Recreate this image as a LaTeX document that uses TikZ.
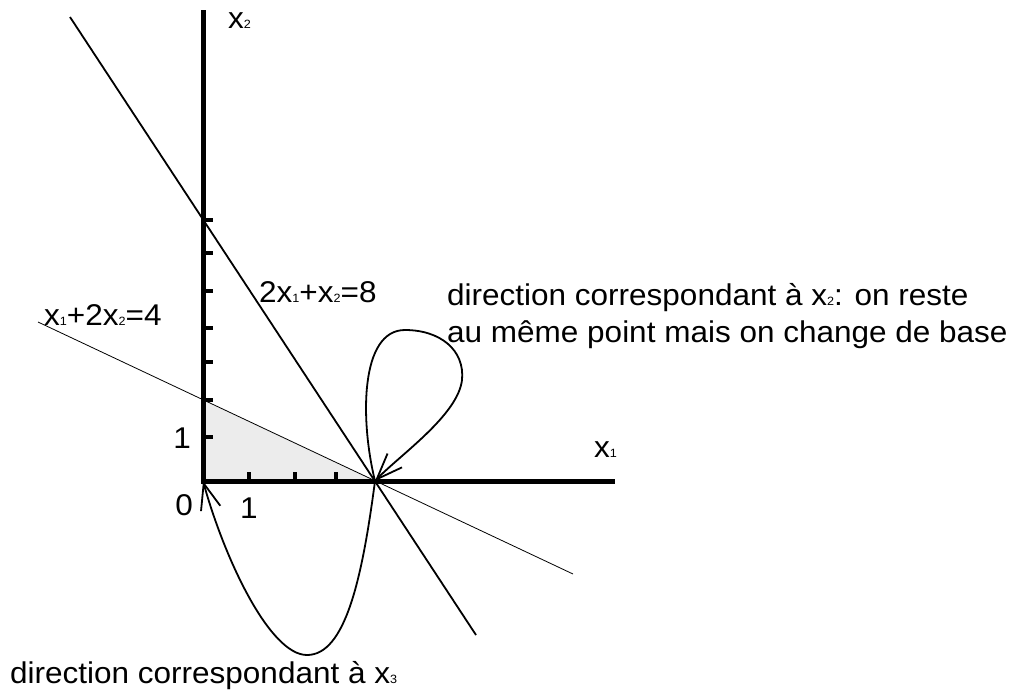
\documentclass[tikz,border=0pt]{standalone}
\usepackage{fontspec}
\setmainfont[FakeStretch=1.05]{Liberation Sans}
\usetikzlibrary{arrows.meta}

\newcommand{\sx}[1]{x{\fontsize{12}{12}\selectfont #1}}
\newcommand{\LPtickY}[1]{\draw[line width=4pt] (203,#1) -- (213,#1);}
\newcommand{\LPtickX}[1]{\draw[line width=4pt] (#1,481) -- (#1,472);}
\tikzset{lbl/.style={inner sep=0pt,font=\fontsize{30}{37}\selectfont},
  dirloop/.style={line width=1.8pt,-{Straight Barb[length=26pt,width=20pt]}}}

\begin{document}
\begin{tikzpicture}[x=1pt,y=-1pt]
  \useasboundingbox (0,0) rectangle (1022,691);
  \coordinate (O) at (203,481);
  \coordinate (P) at (375,481);
  \coordinate (Q) at (203,400);
  \fill[fill=gray!15] (O) -- (Q) -- (P) -- cycle;
  \draw[line width=1.8pt] (70,17) -- (476,635);
  \draw[line width=0.8pt] (38,322) -- (573,574);
  \draw[line width=5pt] (203,10) -- (O) -- (615,481);
  \foreach\y in{220,253,291,328,362,400,437}{\LPtickY{\y}}
  \foreach\x in{249,295,336}{\LPtickX{\x}}
  \draw[dirloop] (P) .. controls (360,420) and (360,330) .. (405,330)
    .. controls (440,330) and (465,350) .. (462,380)
    .. controls (458,415) and (400,455) .. (P);
  \draw[dirloop] (P) .. controls (362,580) and (345,655) .. (307,655)
    .. controls (270,655) and (225,560) .. (O);
  \node[lbl,anchor=base west] (xtwo) at (228,28) {\sx{2}};
  \node[lbl,anchor=base west] (xone) at (594,457) {\sx{1}};
  \node[lbl,anchor=base west] (cone) at (259,302) {2\sx{1}+\sx{2}=8};
  \node[lbl,anchor=base west] (ctwo) at (44,325) {\sx{1}+2\sx{2}=4};
  \node[lbl,anchor=base east] (yone) at (191,448) {1};
  \node[lbl,anchor=base east] (zero) at (193,515) {0};
  \node[lbl,anchor=base] (xunit) at (249,518) {1};
  \node[lbl,anchor=base west] (dira) at (447,305) {direction correspondant à \sx{2}: on reste};
  \node[lbl,anchor=base west] (dirb) at (447,342) {au même point mais on change de base};
  \node[lbl,anchor=base west] (dirc) at (10,683) {direction correspondant à \sx{3}};
\end{tikzpicture}
\end{document}
